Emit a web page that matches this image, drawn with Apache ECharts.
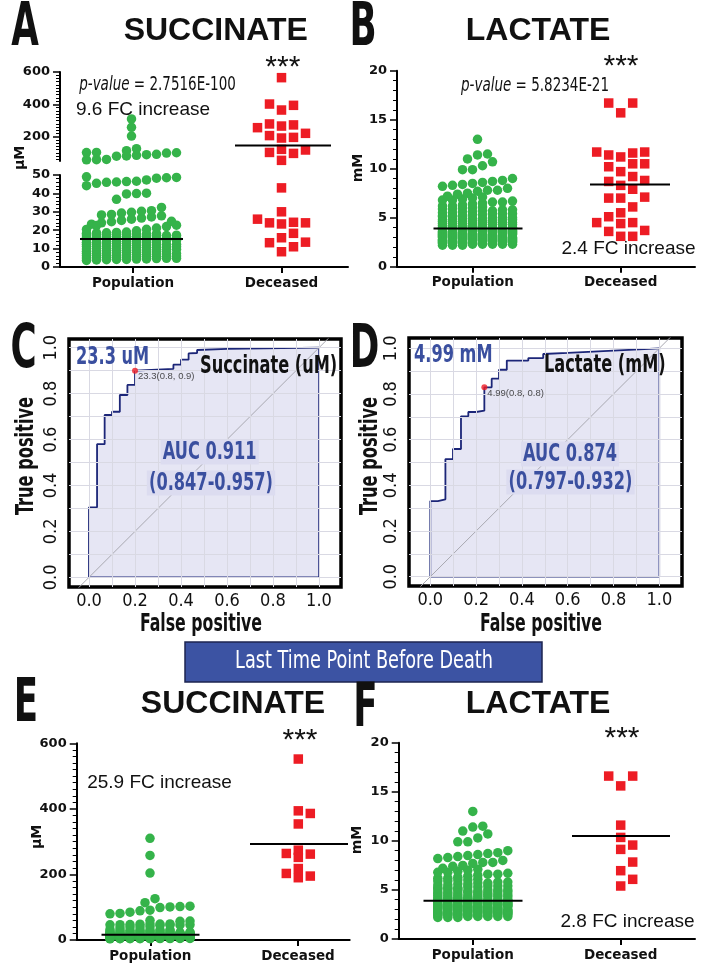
<!DOCTYPE html>
<html><head><meta charset="utf-8">
<script src="https://cdn.jsdelivr.net/npm/echarts@6/dist/echarts.min.js"></script>
<style>html,body{margin:0;padding:0;background:#fff}#c{width:704px;height:972px}</style>
</head><body><div id="c"></div>
<script>
// ================= DATA =================
const groupLabels = ['Population', 'Deceased'];

// Succinate (µM), population (panels A and E)
const succinatePopulation = [
  3.6,3.8,4.0,4.1,4.1,4.3,4.4,4.6,4.7,4.7,4.9,5.0,5.2,5.2,5.4,5.5,5.7,5.8,5.8,6.0,
  6.1,6.3,6.4,6.4,6.6,6.7,6.9,7.0,7.1,7.3,7.3,7.5,7.6,7.8,7.9,8.0,8.2,8.2,8.4,8.5,
  8.7,8.8,8.9,9.1,9.2,9.2,9.4,9.5,9.7,9.8,10.0,10.1,10.1,10.3,10.4,10.6,10.7,10.9,11.0,11.1,
  11.3,11.4,11.4,11.6,11.7,11.9,12.0,12.2,12.3,12.3,12.5,12.6,12.8,12.9,13.1,13.2,13.2,13.4,13.5,13.7,
  13.8,14.0,14.1,14.1,14.3,14.4,14.6,14.7,14.9,15.0,15.2,15.3,15.5,15.6,15.6,15.8,15.9,16.1,16.2,16.4,
  16.5,16.5,16.7,16.8,17.0,17.1,17.3,17.4,17.4,17.6,17.7,17.9,18.0,18.0,18.2,18.3,18.5,18.6,18.8,19.0,
  19.7,20.5,21.2,22.0,22.7,23.3,24.0,24.6,25.3,26.0,26.6,27.2,27.8,20.4,22.5,24.8,
  28.3,28.6,29.3,29.7,30.3,30.6,32.4,
  36.8,39.7,39.9,40.1,44.2,45.5,46.0,46.2,46.4,46.6,47.3,48.3,48.5,48.7,49.0,
  57,58,60,80,81,85,89,91,99,101,102,103,114,126,
  204,258,310
];
const succinateDeceased = [565,402,394,365,279,266,273,256,221,196,192,207,122,103,97,118,54,
  43,30,26,24,23.4,24,24.3,18.3,15.9,13.2,13.5,11,8.3];
const succinateMeans = [15.2, 146];
const succinateLastDeceased = [552,394,386,354,274,262,252,264,218,203,190,195];
const succinateLastMeans = [16, 293];

// Lactate (mM), population (panels B and F)
const lactatePopulation = [
  2.2,2.2,2.2,2.3,2.3,2.3,2.3,2.3,2.4,2.4,2.4,2.4,2.4,2.4,2.5,2.5,2.5,2.5,2.5,2.5,
  2.6,2.6,2.6,2.6,2.6,2.6,2.6,2.7,2.7,2.7,2.7,2.7,2.7,2.7,2.8,2.8,2.8,2.8,2.8,2.8,
  2.8,2.9,2.9,2.9,2.9,2.9,2.9,2.9,3.0,3.0,3.0,3.0,3.0,3.0,3.0,3.0,3.1,3.1,3.1,3.1,
  3.1,3.1,3.1,3.2,3.2,3.2,3.2,3.2,3.2,3.2,3.3,3.3,3.3,3.3,3.3,3.3,3.3,3.4,3.4,3.4,
  3.4,3.4,3.4,3.4,3.5,3.5,3.5,3.5,3.5,3.5,3.6,3.6,3.6,3.6,3.6,3.6,3.6,3.7,3.7,3.7,
  3.7,3.7,3.7,3.8,3.8,3.8,3.8,3.8,3.8,
  3.9,3.9,3.9,3.9,3.9,4.0,4.0,4.0,4.0,4.0,4.0,4.1,4.1,4.1,4.1,4.2,4.2,4.2,4.2,4.3,
  4.3,4.3,4.3,4.4,4.4,4.4,4.4,4.5,4.5,4.5,4.5,4.6,4.6,4.6,4.7,4.7,4.7,4.8,4.8,4.8,
  4.8,4.9,4.9,4.9,5.0,5.0,5.0,5.1,5.1,5.1,5.2,5.2,5.2,5.3,5.3,5.4,5.4,5.4,5.5,5.5,
  5.6,5.6,5.7,5.7,5.8,5.8,5.9,5.9,6.0,6.0,6.1,6.2,6.2,6.3,6.4,
  6.5,6.6,6.6,6.7,6.8,6.8,6.9,7.0,7.1,7.2,7.4,7.5,7.7,7.8,7.8,8.0,8.2,
  8.3,8.4,8.5,8.6,8.7,8.8,9.0,9.9,9.9,10.3,10.7,11.0,11.4,11.5,13.0
];
const lactateDeceased = [16.7,16.7,15.7,11.4,11.7,11.7,11.2,11.6,10.5,10.2,10.5,9.7,9.2,8.8,8.7,8.3,7.9,
  7.0,7.0,7.1,6.1,5.5,5.1,4.5,4.4,4.5,3.6,3.7,3.1,3.1];
const lactateMeans = [3.9, 8.4];
const lactateLastDeceased = [16.6,16.6,15.6,11.6,10.35,9.57,9.13,7.84,6.96,6.08,5.4];
const lactateLastMeans = [3.9, 10.5];

// ROC curves [false positive, true positive]
const rocSuccinate = [[0,0],[0,0.305],[0.035,0.305],[0.035,0.58],[0.068,0.58],[0.068,0.707],[0.1,0.707],
  [0.1,0.721],[0.134,0.721],[0.134,0.794],[0.167,0.794],[0.167,0.838],[0.2,0.838],[0.2,0.9],[0.367,0.908],
  [0.367,0.926],[0.4,0.926],[0.4,0.948],[0.433,0.948],[0.433,0.975],[0.47,0.977],[0.47,0.99],[0.6,0.995],[1,1]];
const rocSuccinateCut = [0.2, 0.9];
const rocLactate = [[0,0],[0,0.331],[0.033,0.331],[0.033,0.339],[0.066,0.339],[0.066,0.515],[0.099,0.515],
  [0.099,0.559],[0.134,0.559],[0.134,0.702],[0.166,0.702],[0.166,0.721],[0.2,0.721],[0.2,0.727],[0.236,0.727],
  [0.236,0.829],[0.268,0.829],[0.268,0.867],[0.3,0.867],[0.3,0.906],[0.334,0.906],[0.334,0.946],[0.428,0.946],
  [0.428,0.957],[0.493,0.957],[0.493,0.975],[0.6,0.98],[0.8,0.99],[1,1]];
const rocLactateCut = [0.236, 0.829];
const rocTicks = [0, 0.2, 0.4, 0.6, 0.8, 1.0];
const rocGridLines = [0, 0.1, 0.2, 0.3, 0.4, 0.5, 0.6, 0.7, 0.8, 0.9, 1.0];
const brokenUpperTicks = [200, 400, 600];

// ================= STYLE / LAYOUT =================
const NARROW = '"DejaVu Sans Condensed","Liberation Sans Narrow",sans-serif';
const ARIAL = '"Liberation Sans",Arial,Helvetica,sans-serif';
const DEJAVU = '"DejaVu Sans",Verdana,sans-serif';
const BLUE = '#3a4f9f', GREEN = '#35b34a', RED = '#ed1c24', NAVY = '#1c2678';

const L = {
  Aup: {left: 60, top: 72, width: 288, height: 89},
  Alo: {left: 60, top: 175, width: 288, height: 92},
  B:   {left: 397, top: 70.7, width: 298, height: 196},
  C:   {left: 69, top: 339, width: 272, height: 248},
  D:   {left: 409, top: 338, width: 273, height: 248},
  E:   {left: 76.7, top: 743.3, width: 273, height: 196.7},
  F:   {left: 398.7, top: 742.7, width: 296.3, height: 196.3}
};

function minorValues(a, b, s, skip) {
  const r = [];
  for (let v = a; v <= b + 1e-9; v += s) if (skip.indexOf(v) < 0) r.push(v);
  return r;
}

// dense beeswarm: rows of symbols, symmetric spread, wrapping into columns when too wide
function rowSwarm(values, pxPerUnit, rowH, sp, maxHalf) {
  const idx = values.map((v, i) => i).sort((a, b) => values[a] - values[b] || a - b);
  const offs = new Array(values.length).fill(0);
  const m = Math.floor((2 * maxHalf) / sp + 1e-6) + 1;
  let row = [], start = 0, prev = 0;
  function flush() {
    if (!row.length) return;
    row.sort((a, b) => a - b);
    const cols = Math.min(row.length, m);
    row.forEach((id, k) => { offs[id] = ((k % cols) - (cols - 1) / 2) * sp; });
    row = [];
  }
  idx.forEach(i => {
    const y = values[i] * pxPerUnit;
    if (row.length && (y - start >= rowH || y - prev >= 0.6 * rowH)) flush();
    if (!row.length) start = y;
    row.push(i); prev = y;
  });
  flush();
  return offs;
}
// sparse beeswarm: collision avoidance of square symbols, then recentred
function collideSwarm(values, pxPerUnit, size, step, maxHalf) {
  const idx = values.map((v, i) => i).sort((a, b) => values[a] - values[b] || a - b);
  const offs = new Array(values.length).fill(0);
  const cands = [0];
  for (let k = 1; k * step <= maxHalf * 1.3; k++) cands.push(k * step, -k * step);
  const placed = [];
  idx.forEach(i => {
    const y = values[i] * pxPerUnit;
    let best = 0, bestD = -1;
    for (const c of cands) {
      let md = Infinity;
      for (const p of placed) {
        const dy = Math.abs(p.y - y); if (dy >= size) continue;
        const d = Math.max(Math.abs(p.x - c), dy);
        if (d < md) md = d;
      }
      if (md >= size) { best = c; bestD = Infinity; break; }
      if (md > bestD) { bestD = md; best = c; }
    }
    placed.push({x: best, y: y});
    offs[i] = best;
  });
  const mn = Math.min(...offs), mx = Math.max(...offs), sh = (mn + mx) / 2;
  return offs.map(o => o - sh);
}

function swarmSeries(xi, yi, values, center, pxPerUnit, pop, maxHalf) {
  const offs = pop ? rowSwarm(values, pxPerUnit, 9, 10, maxHalf) : collideSwarm(values, pxPerUnit, 10.5, 6, maxHalf);
  return {
    type: 'scatter', xAxisIndex: xi, yAxisIndex: yi, silent: true, z: 3,
    symbol: pop ? 'circle' : 'rect', symbolSize: 9.5,
    itemStyle: {color: pop ? GREEN : RED, opacity: 1},
    data: values.map((v, i) => [center + offs[i], v])
  };
}
function meanSeries(xi, yi, mean, center, hw) {
  return {
    type: 'line', xAxisIndex: xi, yAxisIndex: yi, silent: true, z: 5, symbol: 'none',
    lineStyle: {color: '#000', width: 2}, data: [[center - hw, mean], [center + hw, mean]]
  };
}

const tickFont = {fontFamily: DEJAVU, fontWeight: 'bold', fontSize: 13, color: '#111'};

function dotX(gi, width, ticks, show) {
  return {
    type: 'value', gridIndex: gi, min: 0, max: width,
    axisLine: {show: show, onZero: false, lineStyle: {color: '#000', width: 2}},
    axisTick: {show: show, customValues: ticks, length: 6, lineStyle: {color: '#000', width: 2}},
    axisLabel: Object.assign({show: show, customValues: ticks, margin: 9,
      formatter: v => groupLabels[Math.abs(v - ticks[0]) < Math.abs(v - ticks[1]) ? 0 : 1]}, tickFont, {fontSize: 13.5}),
    splitLine: {show: false}
  };
}
function dotY(gi, min, max, interval, minorSplit) {
  return {
    type: 'value', gridIndex: gi, min: min, max: max, interval: interval,
    axisLine: {show: true, onZero: false, lineStyle: {color: '#000', width: 2}},
    axisTick: {show: true, length: 7, lineStyle: {color: '#000', width: 1.5}},
    minorTick: {show: true, splitNumber: minorSplit, length: 4, lineStyle: {color: '#000', width: 1}},
    axisLabel: Object.assign({margin: 10}, tickFont),
    splitLine: {show: false}, minorSplitLine: {show: false}
  };
}
function rocX(gi, min, max) {
  return {
    type: 'value', gridIndex: gi, min: min, max: max,
    axisLine: {show: false}, axisTick: {show: false}, splitLine: {show: false},
    axisLabel: {customValues: rocTicks, formatter: v => v.toFixed(1), margin: 5,
      fontFamily: NARROW, fontSize: 18, color: '#111'}
  };
}
function rocY(gi, min, max) {
  return {
    type: 'value', gridIndex: gi, min: min, max: max,
    axisLine: {show: false}, axisTick: {show: false}, splitLine: {show: false},
    axisLabel: {customValues: rocTicks, formatter: v => v.toFixed(1), rotate: 90, margin: 9,
      fontFamily: NARROW, fontSize: 18, color: '#111'}
  };
}
function rocSeries(xi, yi, curve, cut, cutLabel) {
  return [
    {type: 'line', xAxisIndex: xi, yAxisIndex: yi, silent: true, z: 1, data: [],
      markLine: {silent: true, symbol: 'none', animation: false, label: {show: false},
        lineStyle: {color: '#d9d9e3', width: 1, type: 'solid'},
        data: rocGridLines.map(v => ({xAxis: v})).concat(rocGridLines.map(v => ({yAxis: v})))}},
    {type: 'line', xAxisIndex: xi, yAxisIndex: yi, silent: true, z: 2, symbol: 'none',
      lineStyle: {color: NAVY, width: 1.8}, areaStyle: {color: 'rgba(80,80,180,0.2)', origin: 0},
      data: curve},
    {type: 'line', xAxisIndex: xi, yAxisIndex: yi, silent: true, z: 2, symbol: 'none',
      lineStyle: {color: NAVY, width: 1.5}, data: [[1, 1], [1, 0], [0, 0]]},
    {type: 'line', xAxisIndex: xi, yAxisIndex: yi, silent: true, z: 3, symbol: 'none',
      lineStyle: {color: '#a8a8b0', width: 1}, data: [[-0.2, -0.2], [1.2, 1.2]]},
    {type: 'scatter', xAxisIndex: xi, yAxisIndex: yi, silent: true, z: 6, symbolSize: 6,
      itemStyle: {color: RED}, data: [cut],
      label: {show: true, formatter: cutLabel, position: 'right', distance: 0, offset: [0, 6],
        fontFamily: ARIAL, fontSize: 9.5, color: '#222'}}
  ];
}

function txt(text, x, y, font, opts) {
  return Object.assign({type: 'text', x: x, y: y, z: 100, silent: true,
    style: Object.assign({text: text, font: font, fill: '#111', textAlign: 'center', textVerticalAlign: 'middle'},
      (opts && opts.style) || {})}, opts && opts.el || {});
}
const letterFont = 'bold 60px ' + NARROW;
const titleFont = 'bold 32px ' + ARIAL;
const starFont = '30px ' + ARIAL;
const fcFont = '19px ' + ARIAL;
const unitFont = 'bold 14px ' + DEJAVU;
const rocFont = 'bold 25px ' + NARROW;
const axisTitleFont = 'bold 24px ' + NARROW;
const NS = 0.72; // horizontal squeeze for the condensed bold face
const rot = {el: {rotation: Math.PI / 2}};
const sq = {el: {scaleX: 0.66}};
const nar = (extra, s) => ({el: {scaleX: s || NS}, style: extra || {}});

const pxA_up = L.Aup.height / 550, pxA_lo = L.Alo.height / 50;
const pxB = L.B.height / 20, pxE = L.E.height / 600, pxF = L.F.height / 20;
const gridBase = {outerBoundsMode: 'none', containLabel: false};
const rocGrid = {show: true, borderColor: '#000', borderWidth: 3.5, backgroundColor: '#fff'};
const pRich = {i: {font: 'italic 19px ' + NARROW, fill: '#111'}, n: {font: '19px ' + NARROW, fill: '#111'}};
const aucStyle = {fill: BLUE, backgroundColor: '#dcdcf0', padding: [0, 3]};

const option = {
  animation: false,
  grid: [
    Object.assign({}, gridBase, L.Aup),
    Object.assign({}, gridBase, L.Alo),
    Object.assign({}, gridBase, L.B),
    Object.assign({}, gridBase, rocGrid, L.C),
    Object.assign({}, gridBase, rocGrid, L.D),
    Object.assign({}, gridBase, L.E),
    Object.assign({}, gridBase, L.F)
  ],
  xAxis: [
    dotX(0, L.Aup.width, [73, 221.5], false),
    dotX(1, L.Alo.width, [73, 221.5], true),
    dotX(2, L.B.width, [75.8, 223.7], true),
    rocX(3, -0.087, 1.0957),
    rocX(4, -0.093, 1.099),
    dotX(5, L.E.width, [73.6, 221.3], true),
    dotX(6, L.F.width, [74.1, 222], true)
  ],
  yAxis: [
    {type: 'value', gridIndex: 0, min: 50, max: 600,
      axisLine: {show: true, onZero: false, lineStyle: {color: '#000', width: 2}},
      axisTick: {show: true, customValues: brokenUpperTicks, length: 7, lineStyle: {color: '#000', width: 1.5}},
      axisLabel: Object.assign({customValues: brokenUpperTicks, margin: 10}, tickFont),
      splitLine: {show: false}},
    {type: 'value', gridIndex: 0, min: 50, max: 600, position: 'left', offset: 0,
      axisLine: {show: false},
      axisTick: {show: true, customValues: minorValues(60, 580, 20, brokenUpperTicks), length: 4, lineStyle: {color: '#000', width: 1}},
      axisLabel: {show: false}, splitLine: {show: false}},
    dotY(1, 0, 50, 10, 5),
    dotY(2, 0, 20, 5, 5),
    rocY(3, -0.0422, 1.0379),
    rocY(4, -0.0407, 1.045),
    dotY(5, 0, 600, 200, 10),
    dotY(6, 0, 20, 5, 5)
  ],
  series: [
    // A (broken axis)
    swarmSeries(1, 2, succinatePopulation.filter(v => v < 50), 71.5, pxA_lo, true, 46),
    swarmSeries(0, 0, succinatePopulation.filter(v => v >= 50), 71.5, pxA_up, true, 46),
    swarmSeries(1, 2, succinateDeceased.filter(v => v < 50), 221.5, pxA_lo, false, 24),
    swarmSeries(0, 0, succinateDeceased.filter(v => v >= 50), 221.5, pxA_up, false, 24),
    meanSeries(1, 2, succinateMeans[0], 71.5, 51.5),
    meanSeries(0, 0, succinateMeans[1], 223, 48),
    // B
    swarmSeries(2, 3, lactatePopulation, 80.5, pxB, true, 35),
    swarmSeries(2, 3, lactateDeceased, 223.7, pxB, false, 24),
    meanSeries(2, 3, lactateMeans[0], 81, 44.5),
    meanSeries(2, 3, lactateMeans[1], 233, 40),
    // C, D
    ...rocSeries(3, 4, rocSuccinate, rocSuccinateCut, '23.3(0.8, 0.9)'),
    ...rocSeries(4, 5, rocLactate, rocLactateCut, '4.99(0.8, 0.8)'),
    // E
    swarmSeries(5, 6, succinatePopulation, 73.3, pxE, true, 40),
    swarmSeries(5, 6, succinateLastDeceased, 221.6, pxE, false, 18),
    meanSeries(5, 6, succinateLastMeans[0], 73.8, 49),
    meanSeries(5, 6, succinateLastMeans[1], 222.3, 49),
    // F
    swarmSeries(6, 7, lactatePopulation, 74.1, pxF, true, 39),
    swarmSeries(6, 7, lactateLastDeceased, 222, pxF, false, 12),
    meanSeries(6, 7, lactateLastMeans[0], 74.3, 49.5),
    meanSeries(6, 7, lactateLastMeans[1], 222.3, 49)
  ],
  graphic: {elements: [
    txt('A', 25, 29, letterFont, sq), txt('B', 363, 29, letterFont, sq),
    txt('C', 23.5, 351, letterFont, sq), txt('D', 364.5, 351, letterFont, sq),
    txt('E', 26, 705, letterFont, sq), txt('F', 365.5, 710, letterFont, sq),
    txt('SUCCINATE', 215.8, 31, titleFont), txt('LACTATE', 538, 31, titleFont),
    txt('SUCCINATE', 233, 704, titleFont), txt('LACTATE', 538, 704, titleFont),
    txt('***', 282.8, 68, starFont), txt('***', 621, 67, starFont),
    txt('***', 300, 741, starFont), txt('***', 622, 739, starFont),
    txt('{i|p-value}{n| = 2.7516E-100}', 157.5, 85, '19px ' + NARROW, nar({rich: pRich}, 0.79)),
    txt('{i|p-value}{n| = 5.8234E-21}', 535, 86, '19px ' + NARROW, nar({rich: pRich}, 0.79)),
    txt('9.6 FC increase', 143, 110, fcFont), txt('2.4 FC increase', 628.5, 248.5, fcFont),
    txt('25.9 FC increase', 159.5, 783, fcFont), txt('2.8 FC increase', 627.5, 922, fcFont),
    txt('µM', 20, 158, unitFont, rot), txt('mM', 358, 168, unitFont, rot),
    txt('µM', 37, 837, unitFont, rot), txt('mM', 357, 840, unitFont, rot),
    // ROC texts
    txt('True positive', 27, 456, axisTitleFont, {el: {rotation: Math.PI / 2, scaleX: 0.75}}),
    txt('True positive', 371, 456, axisTitleFont, {el: {rotation: Math.PI / 2, scaleX: 0.75}}),
    txt('False positive', 201, 625, axisTitleFont, {el: {scaleX: 0.73}}),
    txt('False positive', 541, 625, axisTitleFont, {el: {scaleX: 0.73}}),
    txt('23.3 uM', 76, 357, rocFont, nar({fill: BLUE, textAlign: 'left'})),
    txt('Succinate (uM)', 200, 366, rocFont, nar({textAlign: 'left'})),
    txt('4.99 mM', 414, 355, rocFont, nar({fill: BLUE, textAlign: 'left'})),
    txt('Lactate (mM)', 544, 365, rocFont, nar({textAlign: 'left'})),
    txt('AUC 0.911', 209.7, 452, rocFont, nar(aucStyle)),
    txt('(0.847-0.957)', 211, 483, rocFont, nar(aucStyle)),
    txt('AUC 0.874', 570, 454, rocFont, nar(aucStyle)),
    txt('(0.797-0.932)', 570.5, 482, rocFont, nar(aucStyle)),
    // banner
    {type: 'rect', z: 99, silent: true, shape: {x: 185, y: 642, width: 357, height: 40},
      style: {fill: '#3c53a3', stroke: '#1d2550', lineWidth: 1.5}},
    txt('Last Time Point Before Death', 364, 662, '24px ' + NARROW, {el: {scaleX: 0.82}, style: {fill: '#fff'}})
  ]}
};

const chart = echarts.init(document.getElementById('c'), null, {renderer: 'canvas', width: 704, height: 972});
chart.setOption(option);
</script>
</body></html>
